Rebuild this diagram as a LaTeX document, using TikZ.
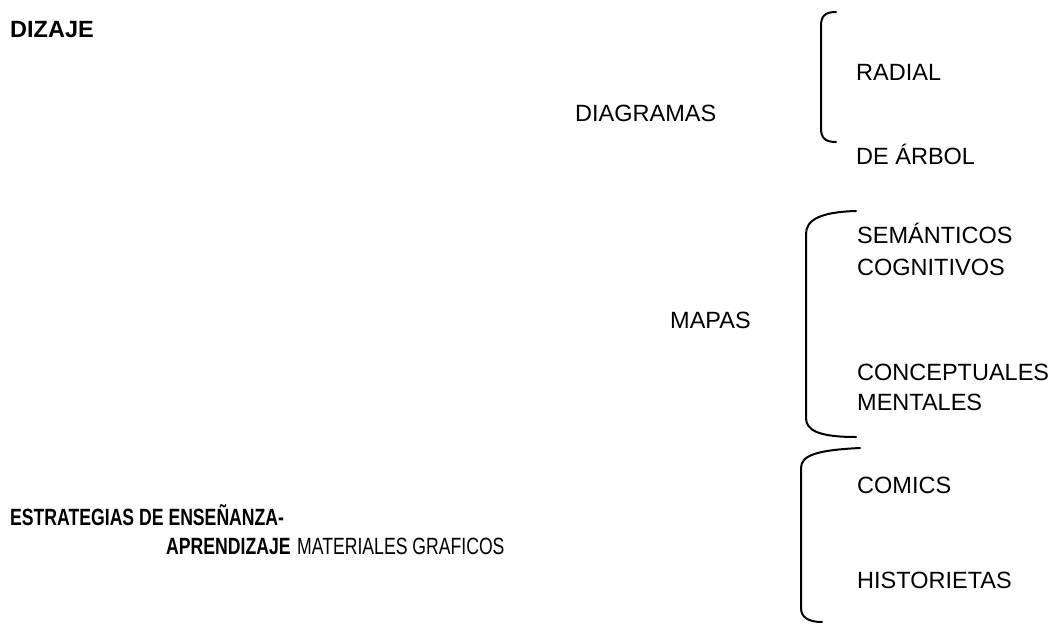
\documentclass[tikz,border=0pt]{standalone}
\usepackage{fontspec}
\setmainfont{Liberation Sans}
\newfontfamily\angosta{Liberation Sans}[FakeStretch=0.75]
\usepackage{tikz}
\tikzstyle{item} = [anchor=base west, inner sep=0pt,
    font=\fontsize{23.5}{28}\selectfont]
\tikzstyle{titulo} = [item, font=\fontsize{23.5}{28}\selectfont\bfseries]
\tikzstyle{pie} = [item, font=\angosta\fontsize{23.5}{28}\selectfont]
\tikzstyle{llave} = [line width=2pt, line cap=round]

\begin{document}
\begin{tikzpicture}[x=1pt,y=-1pt]
\useasboundingbox (0,0) rectangle (1057,624);

% titulos
\node[titulo] (dizaje) at (10,37) {DIZAJE};
\node[pie, font=\angosta\fontsize{23.5}{28}\selectfont\bfseries] (estrategias)
    at (10,525) {ESTRATEGIAS DE ENSEÑANZA-};
\node[pie, font=\angosta\fontsize{23.5}{28}\selectfont\bfseries] (aprendizaje)
    at (166,554) {APRENDIZAJE};

% ramas
\node[item] (diagramas) at (575,121) {DIAGRAMAS};
\node[item] (mapas) at (670,328) {MAPAS};
\node[pie] (materiales) at (297,554) {MATERIALES GRAFICOS};

% diagramas
\node[item] (radial) at (856,80) {RADIAL};
\node[item] (arbol) at (856,164) {DE ÁRBOL};
\draw[llave] (836,12) .. controls (825,12) and (821,16) .. (821,26)
    -- (821,128) .. controls (821,138) and (825,142) .. (836,142);

% mapas
\node[item] (semanticos) at (857,243) {SEMÁNTICOS};
\node[item] (cognitivos) at (857,275) {COGNITIVOS};
\node[item] (conceptuales) at (857,380) {CONCEPTUALES};
\node[item] (mentales) at (857,410) {MENTALES};
\draw[llave] (856,211) .. controls (820,212) and (806,220) .. (806,234)
    -- (806,418) .. controls (806,430) and (818,437) .. (856,437);

% materiales graficos
\node[item] (comics) at (857,493) {COMICS};
\node[item] (historietas) at (857,588) {HISTORIETAS};
\draw[llave] (860,448) .. controls (818,450) and (801,455) .. (801,468)
    -- (801,608) .. controls (801,617) and (808,622) .. (822,622);

\end{tikzpicture}
\end{document}
